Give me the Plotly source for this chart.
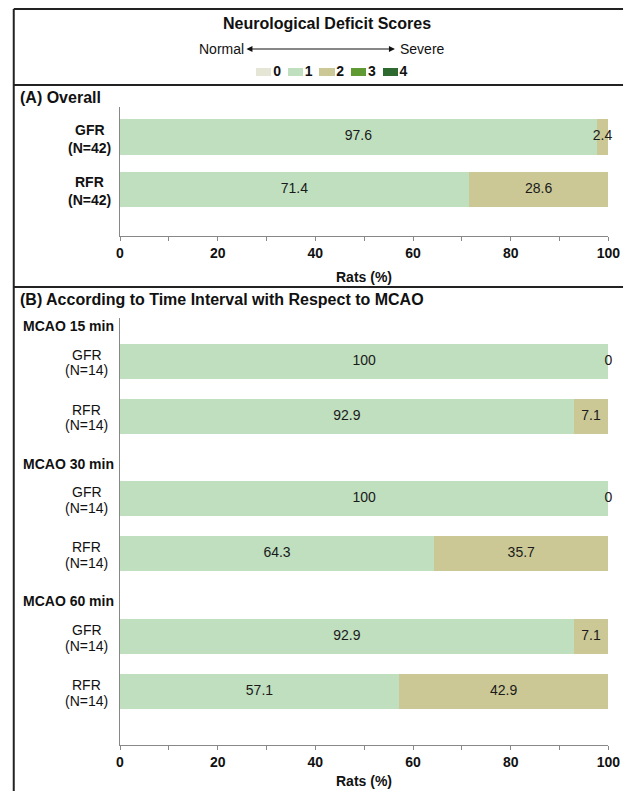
import plotly.graph_objects as go

W, H = 636, 792
FONT = "Liberation Sans, Arial, sans-serif"

# ---------------- data ----------------
scores = ["0", "1", "2", "3", "4"]
score_colors = ["#e6e6d6", "#bfdfbf", "#cbc896", "#5f9a32", "#2e6a30"]
labelled_scores = ["1", "2"]

# Panel A: overall
a_groups = ["GFR", "RFR"]
a_n = [42, 42]
a_score0 = [0.0, 0.0]
a_score1 = [97.6, 71.4]
a_score2 = [2.4, 28.6]
a_score3 = [0.0, 0.0]
a_score4 = [0.0, 0.0]

# Panel B: by time interval
b_intervals = ["MCAO 15 min", "MCAO 30 min", "MCAO 60 min"]
b_groups = ["GFR", "RFR", "GFR", "RFR", "GFR", "RFR"]
b_n = [14, 14, 14, 14, 14, 14]
b_score0 = [0.0, 0.0, 0.0, 0.0, 0.0, 0.0]
b_score1 = [100.0, 92.9, 100.0, 64.3, 92.9, 57.1]
b_score2 = [0.0, 7.1, 0.0, 35.7, 7.1, 42.9]
b_score3 = [0.0, 0.0, 0.0, 0.0, 0.0, 0.0]
b_score4 = [0.0, 0.0, 0.0, 0.0, 0.0, 0.0]

x_ticks = [0, 20, 40, 60, 80, 100]
x_title = "Rats (%)"

# ---------------- helpers ----------------
def py(p):  # pixel-from-top -> paper y
    return 1 - p / H

def px(p):
    return p / W

a_series = [a_score0, a_score1, a_score2, a_score3, a_score4]
b_series = [b_score0, b_score1, b_score2, b_score3, b_score4]

# row positions (axis units)
a_pos = list(range(len(a_groups)))
GROUP_STRIDE, HEAD_OFF, ROW_STEP = 2.55, 0.65, 1.02
b_head_pos = [g * GROUP_STRIDE for g in range(len(b_intervals))]
b_pos = []
for g in range(len(b_intervals)):
    b_pos += [b_head_pos[g] + HEAD_OFF, b_head_pos[g] + HEAD_OFF + ROW_STEP]

fig = go.Figure()

def add_panel(series, pos, xa, ya, width):
    base = [0.0] * len(pos)
    for s, vals, col in zip(scores, series, score_colors):
        fig.add_trace(go.Bar(x=vals, y=pos, orientation="h", marker=dict(color=col, line=dict(width=0)),
                             width=width, xaxis=xa, yaxis=ya, showlegend=False, hoverinfo="skip"))
        if s in labelled_scores:
            mids = [b + v / 2 for b, v in zip(base, vals)]
            fig.add_trace(go.Scatter(x=mids, y=pos, mode="text", text=[f"{v:g}" for v in vals],
                                     textfont=dict(family=FONT, size=14, color="#1a1a1a"),
                                     textposition="middle center", xaxis=xa, yaxis=ya,
                                     showlegend=False, cliponaxis=False, hoverinfo="skip"))
        base = [b + v for b, v in zip(base, vals)]

add_panel(a_series, a_pos, "x", "y", 0.67)
add_panel(b_series, b_pos, "x2", "y2", 0.65)

# legend built on a small hidden axis
leg_x = list(range(len(scores)))
fig.add_trace(go.Bar(x=leg_x, y=[1] * len(scores), marker=dict(color=score_colors, line=dict(width=0)),
                     width=0.48, xaxis="x3", yaxis="y3", showlegend=False, hoverinfo="skip"))
fig.add_trace(go.Scatter(x=[i + 0.42 for i in leg_x], y=[0.5] * len(scores), mode="text",
                         text=[f"<b>{s}</b>" for s in scores],
                         textfont=dict(family=FONT, size=14, color="#111"),
                         textposition="middle center", xaxis="x3", yaxis="y3",
                         showlegend=False, cliponaxis=False, hoverinfo="skip"))

x_dom = [px(119), px(620)]
xcommon = dict(range=[0, 100], tickvals=x_ticks, ticks="outside", ticklen=4, tickcolor="#888",
               showline=True, linecolor="#888", linewidth=1, showgrid=False, zeroline=False,
               tickfont=dict(family=FONT, size=14, color="#111", weight="bold"),
               minor=dict(dtick=10, ticks="outside", ticklen=4, tickcolor="#888"),
               domain=x_dom, fixedrange=True)
ycommon = dict(showticklabels=False, showline=True, linecolor="#888", linewidth=1,
               showgrid=False, zeroline=False, ticks="", fixedrange=True)

LEG_C0, LEG_UNIT = 266.5, 32.4
fig.update_layout(
    width=W, height=H, margin=dict(l=0, r=0, t=0, b=0), autosize=False,
    paper_bgcolor="white", plot_bgcolor="white", barmode="stack", bargap=0,
    font=dict(family=FONT, color="#111"), dragmode=False, hovermode=False,
    xaxis=dict(**xcommon, anchor="y"),
    yaxis=dict(**ycommon, domain=[py(236), py(107)], range=[1.887, -0.57], anchor="x"),
    xaxis2=dict(**xcommon, anchor="y2"),
    yaxis2=dict(**ycommon, domain=[py(745), py(318)], range=[7.76, -0.15], anchor="x2"),
    xaxis3=dict(domain=[px(240), px(430)], range=[(240 - LEG_C0) / LEG_UNIT, (430 - LEG_C0) / LEG_UNIT],
                visible=False, anchor="y3", fixedrange=True),
    yaxis3=dict(domain=[py(76), py(68)], range=[0, 1], visible=False, anchor="x3", fixedrange=True),
)

ann = []
# header
ann.append(dict(text="<b>Neurological Deficit Scores</b>", x=px(331), y=py(23), xref="paper", yref="paper",
                showarrow=False, font=dict(size=16), xanchor="center", yanchor="middle"))
ann.append(dict(text="Normal", x=px(248), y=py(49), xref="paper", yref="paper", showarrow=False,
                font=dict(size=14), xanchor="right", yanchor="middle"))
ann.append(dict(text="Severe", x=px(404), y=py(49), xref="paper", yref="paper", showarrow=False,
                font=dict(size=14), xanchor="left", yanchor="middle"))
ann.append(dict(text="", x=px(401), y=py(49), xref="paper", yref="paper", ax=-150, ay=0,
                axref="pixel", ayref="pixel", showarrow=True, arrowhead=2, arrowsize=1,
                arrowwidth=1.2, arrowcolor="#111", arrowside="end+start"))
# panel labels
ann.append(dict(text="<b>(A) Overall</b>", x=px(14), y=py(98), xref="paper", yref="paper",
                showarrow=False, font=dict(size=16), xanchor="left", yanchor="middle"))
ann.append(dict(text="<b>(B) According to Time Interval with Respect to MCAO</b>", x=px(14), y=py(299),
                xref="paper", yref="paper", showarrow=False, font=dict(size=16), xanchor="left", yanchor="middle"))
# axis titles (kept fully inside the page)
ann.append(dict(text=f"<b>{x_title}</b>", x=50, y=py(277), xref="x", yref="paper", showarrow=False,
                font=dict(size=14), xanchor="center", yanchor="middle"))
ann.append(dict(text=f"<b>{x_title}</b>", x=50, y=py(790), xref="x2", yref="paper", showarrow=False,
                font=dict(size=14), xanchor="center", yanchor="bottom", borderpad=0))
# row labels (two lines, centred on each other)
for g, n, p in zip(a_groups, a_n, a_pos):
    for txt, ys in ((f"<b>{g}</b>", 7), (f"<b>(N={n})</b>", -11)):
        ann.append(dict(text=txt, x=px(88), y=p, xref="paper", yref="y", yshift=ys,
                        showarrow=False, font=dict(size=14), xanchor="center", yanchor="middle"))
for g, n, p in zip(b_groups, b_n, b_pos):
    for txt, ys in ((g, 6.5), (f"(N={n})", -9)):
        ann.append(dict(text=txt, x=px(85), y=p, xref="paper", yref="y2", yshift=ys,
                        showarrow=False, font=dict(size=14), xanchor="center", yanchor="middle"))
for lab, p in zip(b_intervals, b_head_pos):
    ann.append(dict(text=f"<b>{lab}</b>", x=px(115), y=p, xref="paper", yref="y2",
                    showarrow=False, font=dict(size=14), xanchor="right", yanchor="middle"))
fig.update_layout(annotations=ann)

# frame lines (kept inside the page)
frame = dict(color="#222", width=2)
shapes = [
    dict(type="line", xref="paper", yref="paper", x0=px(10), x1=px(635), y0=py(9), y1=py(9), line=frame),
    dict(type="line", xref="paper", yref="paper", x0=px(10), x1=px(635), y0=py(85), y1=py(85), line=frame),
    dict(type="line", xref="paper", yref="paper", x0=px(10), x1=px(635), y0=py(287), y1=py(287), line=frame),
    dict(type="line", xref="paper", yref="paper", x0=px(10), x1=px(10), y0=py(9), y1=py(791), line=frame),
]
fig.update_layout(shapes=shapes)

fig.write_html("out.html", config={"responsive": False, "staticPlot": True, "displayModeBar": False})
